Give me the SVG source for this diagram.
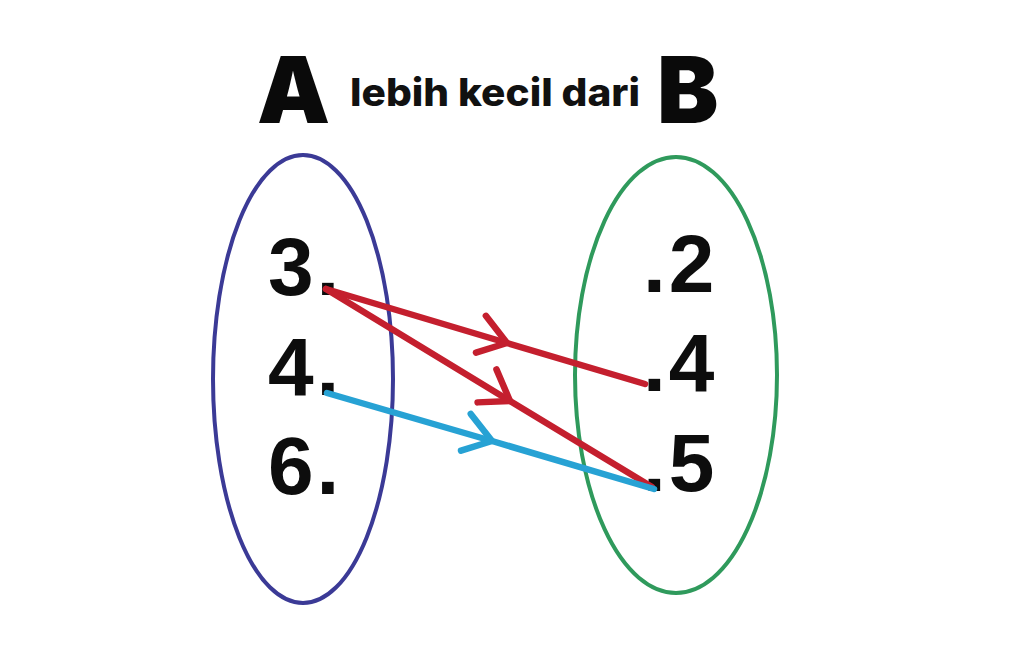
<svg xmlns="http://www.w3.org/2000/svg" width="1018" height="664" viewBox="0 0 1018 664">
<style>
.title{font-family:Inter,"Liberation Sans",sans-serif;font-weight:900;fill:#0a0a0a}
.sub{font-family:Inter,"Liberation Sans",sans-serif;font-weight:800;fill:#111}
.num{font-family:"Liberation Sans",Arial,sans-serif;font-weight:700;font-size:82px;letter-spacing:3px;fill:#0d0d0d}
.set{fill:none;stroke-width:4}
.red{fill:none;stroke:#c41f2e;stroke-width:6.5;stroke-linecap:round;stroke-linejoin:round}
.blue{fill:none;stroke:#27a2d4;stroke-width:6.5;stroke-linecap:round;stroke-linejoin:round}
</style>
<defs>
<marker id="arRed" markerUnits="userSpaceOnUse" orient="auto" refX="0" refY="0" markerWidth="60" markerHeight="60" viewBox="-40 -30 60 60" overflow="visible">
<path d="M-28,-20 L0,0 L-27,18" fill="none" stroke="#c41f2e" stroke-width="6.5" stroke-linecap="round" stroke-linejoin="round"/>
</marker>
<marker id="arBlue" markerUnits="userSpaceOnUse" orient="auto" refX="0" refY="0" markerWidth="60" markerHeight="60" viewBox="-40 -30 60 60" overflow="visible">
<path d="M-28,-20 L0,0 L-27,18" fill="none" stroke="#27a2d4" stroke-width="6.5" stroke-linecap="round" stroke-linejoin="round"/>
</marker>
</defs>
<rect width="1018" height="664" fill="#ffffff"/>
<g id="title">
<text class="title" x="257" y="123" font-size="92">A</text>
<text class="sub" x="350" y="106" font-size="38" textLength="290" lengthAdjust="spacingAndGlyphs">lebih kecil dari</text>
<text class="title" x="657" y="123" font-size="92">B</text>
</g>
<g id="setA">
<ellipse class="set" cx="303" cy="379" rx="90" ry="224" stroke="#3b3a96"/>
<text class="num" x="268" y="295">3.</text>
<text class="num" x="268" y="395">4.</text>
<text class="num" x="268" y="494">6.</text>
</g>
<g id="setB">
<ellipse class="set" cx="676" cy="375" rx="101" ry="218" stroke="#2f9a5c"/>
<text class="num" x="643" y="292">.2</text>
<text class="num" x="643" y="391">.4</text>
<text class="num" x="643" y="491">.5</text>
</g>
<g id="connectors">
<path class="red" d="M326,289 L507,343 L645,384" marker-mid="url(#arRed)"/>
<path class="red" d="M326,289 L510,401 L652,487" marker-mid="url(#arRed)"/>
<path class="blue" d="M327,393 L492,441 L654,489" marker-mid="url(#arBlue)"/>
</g>
</svg>
